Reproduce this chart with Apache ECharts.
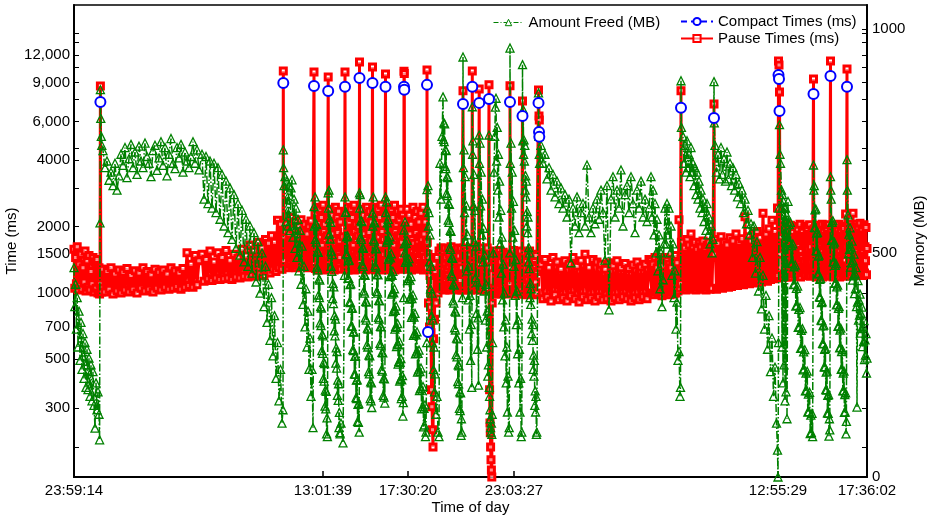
<!DOCTYPE html>
<html>
<head>
<meta charset="utf-8">
<title>GC pause / compact times and memory freed</title>
<script src="https://cdn.jsdelivr.net/npm/echarts@6/dist/echarts.min.js"></script>
<style>
  html, body { margin: 0; padding: 0; background: #fff; }
  #chart { width: 928px; height: 518px; }
</style>
</head>
<body>
<div id="chart"></div>
<script>
// position of each GC event along the run (events are not evenly spaced in the log)
const eventX = [
  0,0.8,1.6,2.4,3.2,4,5,6,7,8,9,10,11,12,13,14,15,16,17,18,19,20,21,22,23,24,25,25.6,
  26,26.4,26.8,27.3,27.8,
  29,31,33,35,37,39,41,43,45,47,49,51,53,55,57,59,61,63,65,67,69,71,73,75,77,79,81,83,85,87,89,91,93,95,97,99,101,103,105,107,109,111,113,115,117,119,121,123,125,
  128,130,132,134,136,138,140,142,144,146,148,150,152,154,156,158,160,162,164,166,168,170,172,174,176,178,180,182,184,186,188,190,191.5,193,194.5,196,197.5,199,200.5,202,203.5,205,206.5,208,209,
  209.3,209.6,210,
  211,212,213,214,215,216,217,218,219,220,221,222,223,224,225,226,227,228,229,230,231,232,233,234,235,236,237,238,239,
  240,240.4,
  241,241.4,241.8,242.2,242.6,243,243.4,243.8,244.2,244.6,245,245.4,245.8,246.2,246.6,247,247.4,247.8,248.2,248.6,249,249.4,249.8,250.2,250.6,251,251.4,251.8,252.2,252.6,253,253.4,
  254.2,254.6,
  255,255.4,255.8,256.2,256.6,257,257.4,257.8,258.2,258.6,259,259.4,259.8,260.2,260.6,261,261.4,261.8,262.2,262.6,263,263.4,263.8,264.2,264.6,265,265.4,265.8,266.2,267,269,
  270.5,271,271.4,
  272,272.4,272.8,273.2,273.6,274,274.4,274.8,275.2,275.6,276,276.4,276.8,277.2,277.6,278,278.4,278.8,279.2,279.6,280,280.4,280.8,281.2,281.6,282,282.4,282.8,283.2,283.6,284,284.4,284.8,285.2,
  285.5,285.8,
  286.2,286.6,287,287.4,287.8,288.2,288.6,289,289.4,289.8,290.2,290.6,291,291.4,291.8,292.2,292.6,293,293.4,293.8,294.2,294.6,295,295.4,295.8,296.2,296.6,297,297.4,297.8,
  298.5,298.8,
  299.2,299.6,300,300.4,300.8,301.2,301.6,302,302.4,302.8,303.2,303.6,304,304.4,304.8,305.2,305.6,306,306.4,306.8,307.2,307.6,308,308.4,308.8,309.2,309.6,310,310.4,310.8,
  311.5,311.8,
  312.5,312.9,313.3,313.7,314.1,314.5,314.9,315.3,315.7,316.1,316.5,316.9,317.3,317.7,318.1,318.5,318.9,319.3,319.7,320.1,320.5,320.9,321.3,321.7,322.1,322.5,322.9,323.3,323.7,324.1,324.5,324.9,325.3,325.7,326.1,326.5,326.9,327.3,327.7,328.1,328.5,328.9,329.3,
  329.8,330,330.3,330.6,
  331,331.5,332,332.5,333,333.5,334,334.5,335,335.5,336,336.5,337,337.5,338,338.5,339,339.5,340,340.5,341,341.5,342,342.5,343,343.5,344,344.5,345,345.5,346,346.5,347,347.5,348,348.5,349,349.5,350,350.5,351,351.5,352,
  352.8,353,353.3,
  354,354.5,355,355.5,356,356.5,357,357.5,358,358.5,359,359.5,360,360.5,361,362,363,364,365,366,367,368,
  369,369.4,369.8,370.2,370.6,371,371.4,371.8,372.2,372.6,373,373.4,373.8,374.2,374.6,375,375.4,375.8,376.2,376.6,377,377.4,377.8,378.2,378.6,379,379.4,379.8,380.2,380.6,381,381.4,381.8,382.2,382.6,383,383.4,383.8,384.2,384.6,385,385.4,385.8,386.2,386.6,387,387.4,387.8,
  388.5,389,389.4,
  390,390.6,391.2,391.8,392.4,393,393.6,394.2,394.8,395.4,396,396.6,397.2,397.8,
  398.3,398.6,
  399,399.5,400,400.5,401,401.5,402,402.5,403,403.5,404,404.5,
  405.2,405.5,
  406,406.6,407.2,407.8,408.4,409,409.6,410.2,410.8,411.4,412,412.6,413.2,413.8,414.4,
  415,415.3,
  415.6,416,416.3,416.6,417,417.4,417.8,418.2,
  418.6,419.3,420,420.7,421.4,422,422.6,423.2,423.8,424.4,425,425.6,426.2,426.8,427.4,428,428.6,429.2,429.8,430.4,431,431.6,432.2,432.8,433.4,434,434.6,435.2,
  435.8,436,436.3,
  437,437.6,438.2,438.8,439.4,440,440.6,441.2,441.8,442.4,443,443.6,444.2,444.8,445.4,446,446.6,447.2,447.8,
  448.5,448.8,
  449.2,449.6,450,450.4,450.8,451.2,451.6,452,452.4,452.8,453.2,453.6,454,454.4,454.8,455.2,455.6,456,456.4,456.8,457.2,457.6,458,458.4,458.8,459.2,459.6,460,460.4,460.8,461.2,461.6,462,462.4,462.8,
  464.5,465,465.3,465.6,
  467,469,471,473,475,477,479,481,483,485,487,489,491,493,495,497,499,501,503,505,507,509,511,513,515,517,519,521,523,525,527,529,531,533,535,537,539,541,543,545,547,549,551,553,555,557,559,561,563,565,567,569,571,573,575,
  577,578,579,580,581,582,583,584,585,586,587,588,589,590,591,592,593,594,595,596,597,598,599,600,601,602,603,604,605,606,
  606.5,607,607.4,
  609,610,611,612,613,614,615,616,617,618,619,620,621,622,623,624,625,626,627,628,629,630,631,632,633,634,635,636,637,638,639,
  640,640.3,
  641,642.5,644,645.5,647,648.5,650,651.5,653,654.5,656,657.5,659,660.5,662,663.5,665,666.5,668,669.5,671,672.5,674,675.5,677,678.5,680,681.5,683,684.5,686,687.5,689,690.5,692,693.5,695,696.5,698,699.5,701,702.5,703.5,
  704,704.5,705,705.5,706,706.5,
  707.5,708,708.5,709,709.5,710,710.5,711,711.5,712,712.5,713,
  714,714.6,715.2,715.8,716.4,717,717.6,718.2,718.8,719.4,720,720.6,721.2,721.8,722.4,723,723.6,724.2,724.8,725.4,726,726.6,727.2,727.8,728.4,729,729.6,730.2,730.8,731.4,732,732.6,733.2,733.8,734.4,735,735.6,736.2,736.8,737.4,738,738.6,
  739.5,739.8,
  740.2,740.6,741,741.4,741.8,742.2,742.6,743,743.4,743.8,744.2,744.6,745,745.4,745.8,746.2,746.6,747,747.4,747.8,748.2,748.6,749,749.4,749.8,750.2,750.6,751,751.4,751.8,752.2,752.6,753,753.4,753.8,754.2,754.6,755,755.4,755.8,
  756.5,756.8,
  757.2,757.6,758,758.4,758.8,759.2,759.6,760,760.4,760.8,761.2,761.6,762,762.4,762.8,763.2,763.6,764,764.4,764.8,765.2,765.6,766,766.4,766.8,767.2,767.6,768,768.4,768.8,769.2,769.6,770,770.4,770.8,771.2,771.6,772,772.4,
  773,773.3,
  774,774.5,775,775.5,776,776.5,777,777.5,778,778.5,779,779.5,780,780.5,781,781.5,782,782.5,783,783.5,784,784.5,785,785.5,786,786.5,787,787.5,788,788.5,789,789.5,790,790.5,791,791.5,792,792.5,793
];

// pause time of each event (ms)
const pauseMs = [
  1580,1050,1450,1100,1620,1030,1350,1080,1500,1040,1300,1120,1550,1020,1400,1060,1480,1030,1250,1100,1450,1010,1380,1050,1420,1000,1300,990,
  1100,8700,1050,1280,1010,
  1280,1010,1250,1040,1300,990,1220,1020,1270,1000,1240,1030,1290,1010,1200,1040,1260,1000,1230,1050,1300,1020,1250,1040,1210,1010,1280,1050,1240,1030,1270,1060,1220,1040,1300,1050,1260,1070,1230,1040,1290,1060,1520,1080,1350,1060,1480,1090,1400,
  1500,1130,1420,1160,1550,1140,1380,1170,1520,1150,1450,1160,1560,1170,1400,1150,1500,1180,1440,1170,1580,1190,1470,1180,1650,1200,1550,1190,1700,1220,1600,1200,1750,1260,1680,1230,1820,1280,1700,1250,2140,1300,2050,1280,1900,
  10180,1400,1800,
  1900,1320,2050,1300,1850,1350,2200,1310,1950,1330,2100,1300,1800,1340,2000,1320,2150,1310,1900,1350,2050,1320,1850,1300,2000,1330,2120,1310,1950,
  10075,1350,
  2300,1290,1750,1500,2450,1270,1850,1450,2100,1310,1700,1550,2400,1280,1800,1480,2200,1300,1650,1520,2500,1270,1900,1460,2050,1320,1750,1500,2350,1290,1820,1470,
  9560,1350,
  2150,1300,1800,1460,2400,1280,1700,1520,2250,1310,1850,1490,2050,1270,1750,1530,2450,1300,1680,1470,2200,1290,1880,1500,2350,1320,1720,1450,2100,1280,1800,
  1300,10075,1400,
  2300,1290,1750,1500,2450,1270,1850,1450,2100,1310,1700,1550,2400,1280,1800,1480,2200,1300,1650,1520,2500,1270,1900,1460,2050,1320,1750,1500,2350,1290,1820,1470,2000,1300,
  11180,1400,
  2150,1300,1800,1460,2400,1280,1700,1520,2250,1310,1850,1490,2050,1270,1750,1530,2450,1300,1680,1470,2200,1290,1880,1500,2350,1320,1720,1450,2100,1280,
  10610,1380,
  2300,1290,1750,1500,2450,1270,1850,1450,2100,1310,1700,1550,2400,1280,1800,1480,2200,1300,1650,1520,2500,1270,1900,1460,2050,1320,1750,1500,2350,1290,
  9865,1400,
  2300,1290,1750,1500,2450,1270,1850,1450,2100,1310,1700,1550,2400,1280,1800,1480,2200,1300,1650,1520,2500,1270,1900,1460,2050,1320,1750,1500,2350,1290,1820,1470,2150,1300,1800,1460,2400,1280,1700,1520,2250,1310,1850,
  1300,10150,9900,1350,
  2150,1300,1800,1460,2400,1280,1700,1520,2250,1310,1850,1490,2050,1270,1750,1530,2450,1300,1680,1470,2200,1290,1880,1500,2350,1320,1720,1450,2100,1280,1800,1510,2300,1290,1750,1500,2450,1270,1850,1450,2100,1310,1700,
  1300,10290,1700,
  1500,900,1450,700,1200,860,660,363,304,239,200,620,1350,760,1250,900,1450,1000,1550,1050,1600,1040,
  1550,1040,1300,1180,1600,1030,1350,1150,1450,1060,1280,1200,1580,1050,1320,1160,1500,1030,1380,1140,1620,1060,1300,1190,1480,1040,1340,1170,1560,1050,1290,1150,1520,1040,1360,1180,1600,1030,1310,1160,1470,1060,1350,1140,1590,1050,1300,1030,
  1050,8270,1500,
  1600,1050,1480,1030,1550,1070,1420,1040,1500,1060,1380,1030,1580,1050,
  10180,1400,
  1600,1040,1500,1060,1450,1030,1620,1050,1400,1070,1550,1040,
  8430,1350,
  1580,1050,1480,1030,1600,1060,1420,1040,1530,1070,1460,1030,1600,1050,1400,
  8800,1300,
  363,257,232,200,175,157,146,900,
  1000,1450,1020,1550,990,1400,1030,1500,1000,1420,1040,1560,1010,1380,990,1480,1030,1530,1000,1440,1050,1380,990,1500,1020,1460,1000,1400,
  1100,8710,1300,
  1500,1000,1420,1030,1560,990,1380,1020,1470,1000,1530,1040,1400,990,1480,1010,1550,1030,1420,
  7440,1300,
  1450,990,1250,1120,1520,1010,1300,1100,1400,980,1200,1150,1480,1000,1280,1090,1550,1020,1230,1130,1380,990,1320,1080,1500,1000,1260,1110,1420,980,1300,1120,1480,1000,1250,
  8350,6360,6100,1300,
  1350,940,1420,960,1300,920,1450,980,1380,930,1280,950,1400,920,1350,970,1450,940,1320,910,1400,960,1500,930,1300,950,1420,920,1380,960,1350,930,1280,940,1370,920,1330,950,1400,930,1300,960,1360,940,1290,920,1340,950,1380,930,1310,960,1350,940,1420,
  1400,1000,1350,980,1450,1010,1300,990,1420,1000,1380,970,1330,1010,1450,990,1400,1000,1350,980,1300,1010,1420,990,1480,1000,1370,1020,2150,1050,
  1100,8270,1700,
  1700,1050,1600,1030,1750,1060,1650,1040,1850,1070,1620,1050,1700,1030,1580,1060,1680,1040,1620,1070,1720,1050,1600,1030,1650,1060,1700,1040,1580,1050,1620,
  7210,1500,
  1750,1040,1680,1060,1800,1050,1700,1080,1650,1060,1780,1070,1720,1090,1850,1080,1700,1100,1760,1090,2220,1110,1800,1100,1720,1120,1850,1110,1900,1130,1780,1120,2300,1140,1850,1130,1950,1150,2140,1160,1900,1170,2430,
  1200,11300,10840,8170,1500,1800,
  1950,1200,2030,1180,1900,1220,2000,1190,1950,1210,2050,1180,
  1950,1200,1600,1400,2030,1180,1550,1420,1900,1220,1650,1380,2000,1190,1580,1430,1950,1210,1620,1400,2050,1180,1560,1440,1920,1230,1640,1390,2010,1200,1600,1420,1960,1220,1580,1410,2040,1190,1620,1380,1930,1210,
  9360,1400,
  1950,1200,1600,1400,2030,1180,1550,1420,1900,1220,1650,1380,2000,1190,1580,1430,1950,1210,1620,1400,2050,1180,1560,1440,1920,1230,1640,1390,2010,1200,1600,1420,1960,1220,1580,1410,2040,1190,1620,1380,
  11300,1400,
  1950,1200,1600,1400,2030,1180,1550,1420,1900,1220,1650,1380,2000,1190,1580,1430,1950,1210,1620,1400,2050,1180,1560,1440,1920,1230,1640,1390,2010,1200,1600,1420,1960,1220,1580,1410,2280,1190,1620,
  10390,1500,
  2000,1220,1600,1400,2050,1200,1560,1430,1980,1240,2300,1380,1960,1230,1620,1410,2050,1210,1580,1440,1990,1240,1640,1390,2070,1220,1600,1420,1950,1200,1560,1430,2040,1230,1620,1400,1980,1210,1590
];

// memory freed by each event (MB)
const freedMB = [
  467,380,430,330,400,290,370,260,345,240,320,220,300,200,285,195,265,180,250,170,235,160,109,210,150,190,140,83,
  567,864,800,760,740,
  728,690,705,662,680,650,700,640,672,720,695,735,668,710,742,690,725,675,738,705,690,745,715,700,670,728,740,684,712,748,695,735,672,720,755,700,688,735,712,742,680,725,705,690,715,748,700,730,685,
  720,620,715,610,705,600,700,590,690,575,675,560,660,545,645,530,630,510,610,495,595,480,575,470,560,455,545,435,525,410,500,380,470,345,430,305,400,270,360,220,300,170,240,120,150,
  730,690,650,
  670,570,660,560,650,550,645,663,535,620,510,600,490,575,460,550,430,515,385,470,335,420,290,370,240,310,180,240,110,
  603,560,
  625,530,566,524,563,468,504,462,501,406,442,400,439,344,380,338,377,282,318,276,315,220,256,214,253,158,194,152,191,96,132,90,
  634,600,
  640,542,576,531,568,470,504,459,496,398,432,387,424,326,360,315,352,254,288,243,280,182,216,171,208,110,144,99,96,120,76,
  450,625,590,
  591,498,536,496,538,444,483,443,484,391,429,389,431,337,376,336,377,284,323,282,324,230,269,229,270,177,216,175,217,124,162,122,164,100,
  634,600,
  630,535,572,530,570,475,512,470,510,415,452,410,450,355,392,350,390,295,332,290,330,235,272,230,270,175,212,170,210,155,
  589,560,
  625,530,568,526,567,472,510,468,509,414,452,410,451,356,394,352,393,298,336,294,335,240,278,236,277,182,220,178,219,165,
  625,590,
  614,524,567,530,575,486,528,491,536,447,489,452,498,408,450,413,459,369,411,375,420,330,372,336,381,291,334,297,342,252,295,258,303,214,256,219,264,175,217,180,226,136,166,
  400,551,520,500,
  569,479,521,483,528,438,480,443,487,397,439,402,447,356,398,361,406,316,357,320,365,275,317,279,324,234,276,239,283,193,235,198,243,152,194,157,202,112,153,116,161,90,100,
  300,641,600,
  650,560,590,480,540,420,470,360,410,300,350,240,290,190,230,140,180,100,90,700,620,760,
  848,753,790,748,788,693,730,688,728,633,670,628,668,573,610,568,608,513,550,508,548,453,490,448,488,393,430,388,428,333,370,328,368,273,310,268,308,213,250,208,248,153,190,148,188,93,130,100,
  400,937,690,
  730,590,670,525,605,460,540,395,470,330,405,260,340,200,
  826,720,
  750,605,675,525,595,445,515,365,435,285,355,205,
  763,700,
  745,605,680,540,620,480,555,415,495,350,430,290,370,225,250,
  763,200,
  180,150,130,110,100,120,95,140,
  300,500,680,760,825,845,705,780,640,720,580,660,520,595,455,535,395,475,335,410,270,350,210,290,145,225,100,110,
  500,957,700,
  745,600,680,535,615,470,550,405,485,340,415,275,350,210,285,145,220,90,100,
  920,750,
  820,720,752,705,740,640,672,625,660,560,592,545,580,480,512,465,500,400,432,385,420,320,352,305,340,240,272,225,260,160,192,145,180,95,100,
  857,760,720,700,
  740,700,720,665,690,640,675,625,660,610,645,600,630,580,620,478,600,560,625,545,590,610,560,696,580,545,600,565,620,575,640,590,484,650,373,620,670,580,640,600,685,560,630,650,590,670,610,545,640,600,660,580,620,570,600,
  670,580,640,540,610,500,575,460,540,420,500,380,440,520,600,520,610,540,600,500,560,450,520,400,460,330,390,260,280,180,
  200,884,780,
  760,700,740,680,750,690,720,670,735,680,700,650,690,630,680,620,660,600,640,590,620,570,600,550,610,540,580,520,560,500,530,
  882,790,
  740,680,720,665,735,675,710,660,725,665,700,650,690,640,675,625,655,610,640,590,620,565,595,540,565,490,560,455,525,415,490,375,450,330,405,285,360,235,310,180,245,120,60,
  0,300,600,786,720,700,
  640,290,630,210,615,250,600,170,600,190,585,130,
  615,523,563,525,568,476,516,477,520,429,469,430,473,381,421,383,426,334,374,335,378,287,327,288,331,239,279,241,284,192,232,193,236,145,185,146,189,97,138,99,142,90,
  696,640,
  650,557,596,556,598,505,544,504,546,454,493,453,495,402,441,401,443,350,389,349,391,298,337,297,339,246,285,245,287,195,234,194,236,143,182,142,184,91,130,105,
  670,640,
  620,528,568,529,572,480,520,481,524,432,472,433,476,384,424,385,428,336,376,337,380,288,328,289,332,240,280,241,284,192,232,193,236,144,184,145,188,96,124,
  708,640,
  585,498,542,508,556,468,513,478,526,439,483,449,497,409,454,420,467,380,156,390,438,350,395,361,408,321,365,331,379,291,336,302,349,262,306,272,320,232,265
];

// compaction (full GC) events: position and time (ms)
const compactX = [26.4, 209.3, 240, 254.2, 271, 285.5, 298.5, 311.5, 330, 330.3, 353, 354, 389, 398.3, 405.2, 415, 436, 448.5, 464.5, 465, 465.3, 607, 640, 704.5, 705, 705.5, 739.5, 756.5, 773];
const compactMs = [7350, 8980, 8700, 8260, 8630, 9460, 8980, 8630, 8630, 8370, 8800, 665, 7210, 8630, 7290, 7600, 7350, 6360, 7290, 5380, 5110, 6920, 6220, 9760, 9360, 6700, 8000, 9660, 8630];

const dayTickPos = [0, 249, 334, 440, 704, 793];
const dayTickLabels = ['23:59:14', '13:01:39', '17:30:20', '23:03:27', '12:55:29', '17:36:02'];
const msLabelValues = [300, 500, 700, 1000, 1500, 2000, 4000, 6000, 9000, 12000];
const msLabelText = ['300', '500', '700', '1000', '1500', '2000', '4000', '6,000', '9,000', '12,000'];
const msMinorTicks = [200, 3000, 4550, 7600, 10600, 13700, 15100];
const mbLabelValues = [0, 500, 1000];

const FONT = '"Liberation Sans", Arial, Helvetica, sans-serif';

function nearestIndex(list, v, useLog) {
  let best = 0, bestD = Infinity;
  list.forEach((t, i) => {
    const d = useLog ? Math.abs(Math.log(t / v)) : Math.abs(t - v);
    if (d < bestD) { bestD = d; best = i; }
  });
  return best;
}

const pauseData = eventX.map((x, i) => [x, pauseMs[i]]);
const freedData = eventX.map((x, i) => [x, freedMB[i]]);
// compaction points are separate marks, so break the line between them
const compactData = [];
compactX.forEach((x, i) => {
  compactData.push([x, compactMs[i]]);
  compactData.push([x, '-']);
});

const chart = echarts.init(document.getElementById('chart'), null, { renderer: 'canvas' });

const lenNote = (eventX.length === pauseMs.length && eventX.length === freedMB.length)
  ? '' : ('len ' + eventX.length + '/' + pauseMs.length + '/' + freedMB.length);

const axisText = { fontSize: 15, color: '#000', fontFamily: FONT };
const GREEN = '#008000';

const option = {
  animation: false,
  backgroundColor: '#fff',
  textStyle: { fontFamily: FONT },
  title: { show: lenNote !== '', text: lenNote, left: 100, top: 20 },
  grid: {
    left: 74, right: 61, top: 5, bottom: 41,
    containLabel: false, outerBoundsMode: 'none',
    show: true, borderColor: '#000', borderWidth: 1.5
  },
  legend: [
    {
      data: [{
        name: 'Amount Freed (MB)',
        itemStyle: { color: '#fff', borderColor: GREEN, borderWidth: 1 },
        lineStyle: { color: GREEN, width: 1, type: [5, 2, 1, 2] }
      }],
      left: 493, top: 15, padding: 0,
      itemWidth: 30, itemHeight: 8,
      selectedMode: false,
      textStyle: axisText
    },
    {
      data: ['Compact Times (ms)', 'Pause Times (ms)'],
      orient: 'vertical',
      left: 680, top: 14, padding: 0, itemGap: 2,
      itemWidth: 32, itemHeight: 9,
      selectedMode: false,
      textStyle: axisText
    }
  ],
  xAxis: {
    type: 'value', min: 0, max: 793,
    name: 'Time of day', nameLocation: 'middle', nameGap: 23, nameMoveOverlap: false,
    nameTextStyle: axisText,
    axisLine: { lineStyle: { color: '#000', width: 2 } },
    axisTick: { inside: true, length: 6, customValues: dayTickPos, lineStyle: { color: '#000', width: 1.5 } },
    axisLabel: Object.assign({
      customValues: dayTickPos, margin: 6,
      formatter: v => dayTickLabels[nearestIndex(dayTickPos, v, false)]
    }, axisText),
    splitLine: { show: false }
  },
  yAxis: [
    {
      type: 'log', logBase: 10, min: 146, max: 20280, position: 'left',
      name: 'Time (ms)', nameLocation: 'middle', nameGap: 55, nameMoveOverlap: false,
      nameTextStyle: axisText,
      axisLine: { show: true, lineStyle: { color: '#000', width: 2 } },
      axisTick: { inside: true, length: 5, customValues: msLabelValues.concat(msMinorTicks), lineStyle: { color: '#000', width: 1 } },
      axisLabel: Object.assign({
        customValues: msLabelValues, margin: 4,
        formatter: v => msLabelText[nearestIndex(msLabelValues, v, true)]
      }, axisText),
      splitLine: { show: false }
    },
    {
      type: 'value', min: 0, max: 1053, position: 'right',
      name: 'Memory (MB)', nameLocation: 'middle', nameGap: 45, nameMoveOverlap: false,
      nameTextStyle: axisText,
      axisLine: { show: true, lineStyle: { color: '#000', width: 2 } },
      axisTick: { inside: true, length: 5, customValues: mbLabelValues, lineStyle: { color: '#000', width: 1 } },
      axisLabel: Object.assign({ customValues: mbLabelValues, margin: 5, formatter: v => String(v) }, axisText),
      splitLine: { show: false }
    },
    {
      // mirrored time ticks on the right edge
      type: 'log', logBase: 10, min: 146, max: 20280, position: 'right',
      axisLine: { show: false },
      axisTick: { show: true, inside: true, length: 5, customValues: msLabelValues.concat(msMinorTicks), lineStyle: { color: '#000', width: 1 } },
      axisLabel: { show: false },
      splitLine: { show: false }
    }
  ],
  series: [
    {
      name: 'Pause Times (ms)', type: 'line', yAxisIndex: 0, data: pauseData,
      symbol: 'rect', symbolSize: 6, showSymbol: true, silent: true, z: 2,
      itemStyle: { color: 'rgba(255,255,255,0.55)', borderColor: '#ff0000', borderWidth: 3 },
      lineStyle: { color: '#ff0000', width: 3 },
      emphasis: { disabled: true }
    },
    {
      name: 'Amount Freed (MB)', type: 'line', yAxisIndex: 1, data: freedData,
      symbol: 'triangle', symbolSize: 8, showSymbol: true, silent: true, z: 3,
      itemStyle: { color: 'rgba(255,255,255,0)', borderColor: GREEN, borderWidth: 1.3 },
      lineStyle: { color: GREEN, width: 1.5, type: [8, 2, 1.5, 2] },
      emphasis: { disabled: true }
    },
    {
      name: 'Compact Times (ms)', type: 'line', yAxisIndex: 0, data: compactData,
      symbol: 'emptyCircle', symbolSize: 10, showSymbol: true, silent: true, z: 4,
      connectNulls: false,
      itemStyle: { color: '#0000ff', borderWidth: 2 },
      lineStyle: { color: '#0000ff', width: 2, type: [6, 4] },
      emphasis: { disabled: true }
    }
  ]
};

chart.setOption(option);
</script>
</body>
</html>
